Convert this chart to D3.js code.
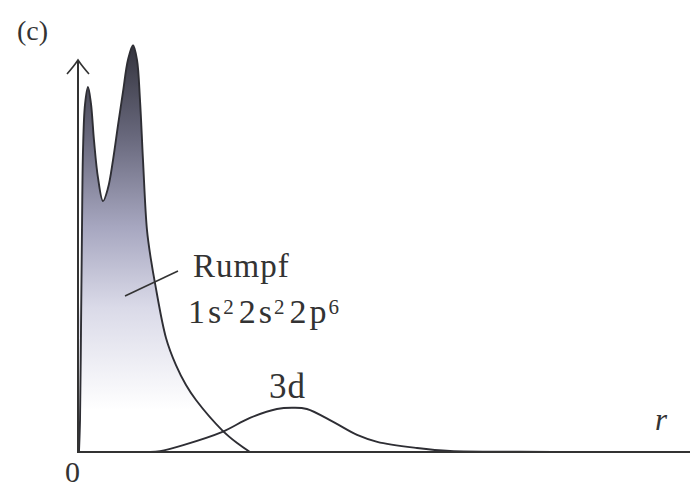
<!DOCTYPE html>
<html>
<head>
<meta charset="utf-8">
<script src="https://cdn.jsdelivr.net/npm/d3@7"></script>
<style>
  body { margin: 0; background: #fff; }
  #container { width: 690px; height: 488px; }
  text { font-family: "Liberation Serif", "Times New Roman", serif; }
</style>
</head>
<body>
<div id="container"></div>
<script>
// radial density (r and value in arbitrary units 0..100)
const coreR = [0.16, 0.33, 0.49, 0.65, 0.82, 1.14, 1.63, 2.12, 2.61, 3.27, 4.08, 4.9, 5.72, 6.54, 7.35, 8.17, 8.99, 9.64, 10.13, 10.62, 11.27, 11.93, 12.58, 14.38, 16.01, 17.65, 19.28, 23.53, 26.0, 28.1];
const coreV = [0, 7.9, 30, 54.7, 74.4, 85.5, 89.9, 85.8, 76.8, 67.5, 61.8, 65, 71.9, 80.5, 88.7, 96.6, 100.2, 96.6, 86.7, 71.9, 54.7, 47.3, 41.6, 28.1, 21.4, 16.5, 12.8, 5.4, 2.2, 0];

const dR = [11.8, 13.4, 17.2, 23.5, 28.1, 32.5, 35, 37.4, 41.7, 45.6, 48.9, 55.4, 60.8, 72.2, 85];
const dV = [0, 0.2, 1.7, 4.9, 8.4, 10.6, 10.9, 10.6, 7.4, 4.2, 2.5, 1.0, 0.25, 0.05, 0];

const labels = { panel: "(c)", origin: "0", axis: "r", d: "3d", core: "Rumpf" };
// 1s² 2s² 2p⁶ : [main text, superscript]
const config = [["1s", "2"], ["2s", "2"], ["2p", "6"]];

const width = 690, height = 488;
const x0 = 78, yBase = 452;

const x = d3.scaleLinear().domain([0, 100]).range([x0, 690]);
const y = d3.scaleLinear().domain([0, 100]).range([yBase, 46]);

const svg = d3.select("#container").append("svg")
  .attr("width", width)
  .attr("height", height)
  .attr("viewBox", [0, 0, width, height]);

// gradient for the filled core density
const grad = svg.append("defs").append("linearGradient")
  .attr("id", "coreFill")
  .attr("gradientUnits", "userSpaceOnUse")
  .attr("x1", 0).attr("y1", 45).attr("x2", 0).attr("y2", 410);
[[0, "#33333d"], [0.25, "#68687c"], [0.5, "#a7a7c0"], [0.72, "#dadae8"], [1, "#ffffff"]]
  .forEach(([o, c]) => grad.append("stop").attr("offset", o).attr("stop-color", c));

const core = coreR.map((r, i) => [r, coreV[i]]);
const d3d = dR.map((r, i) => [r, dV[i]]);

const area = d3.area()
  .x(d => x(d[0]))
  .y0(yBase)
  .y1(d => y(d[1]))
  .curve(d3.curveCatmullRom.alpha(0.5));

const line = d3.line()
  .x(d => x(d[0]))
  .y(d => y(d[1]))
  .curve(d3.curveCatmullRom.alpha(0.5));

svg.append("path")
  .attr("d", area([[0, 0], [0, 40]].concat(core.slice(2))))
  .attr("fill", "url(#coreFill)")
  .attr("stroke", "none");

svg.append("path")
  .attr("d", line(core))
  .attr("fill", "none")
  .attr("stroke", "#2e2e34")
  .attr("stroke-width", 1.9);

svg.append("path")
  .attr("d", line(d3d))
  .attr("fill", "none")
  .attr("stroke", "#2e2e34")
  .attr("stroke-width", 1.9);

// axes
svg.append("line")
  .attr("x1", x0).attr("y1", yBase).attr("x2", 690).attr("y2", yBase)
  .attr("stroke", "#333").attr("stroke-width", 2);
svg.append("line")
  .attr("x1", x0).attr("y1", yBase + 1).attr("x2", x0).attr("y2", 61)
  .attr("stroke", "#333").attr("stroke-width", 2);
svg.append("path")
  .attr("d", `M${x0 - 11},74 Q${x0 - 4},66 ${x0},60 Q${x0 + 4},66 ${x0 + 11},74`)
  .attr("fill", "none")
  .attr("stroke", "#333").attr("stroke-width", 1.6);

// leader line for the core label
svg.append("line")
  .attr("x1", 125).attr("y1", 296).attr("x2", 178).attr("y2", 271)
  .attr("stroke", "#333").attr("stroke-width", 1.6);

const txt = (tx, ty, s, size) => svg.append("text")
  .attr("x", tx).attr("y", ty)
  .attr("font-size", size)
  .attr("fill", "#333")
  .text(s);

txt(17, 40, labels.panel, 28);
txt(65, 482, labels.origin, 30);
txt(655, 430, labels.axis, 31).attr("font-style", "italic");
txt(269, 398, labels.d, 35).attr("letter-spacing", 1);
txt(193, 277, labels.core, 33).attr("letter-spacing", 1);

const cfg = svg.append("text")
  .attr("x", 188).attr("y", 323)
  .attr("font-size", 34)
  .attr("fill", "#333");
config.forEach(([main, sup], i) => {
  cfg.append("tspan")
    .attr("dx", i ? 5 : 0)
    .attr("dy", i ? 9 : 0)
    .attr("letter-spacing", 3)
    .text(main);
  cfg.append("tspan")
    .attr("dx", -1)
    .attr("dy", -9)
    .attr("font-size", 21)
    .attr("letter-spacing", 0)
    .text(sup);
});
</script>
</body>
</html>
